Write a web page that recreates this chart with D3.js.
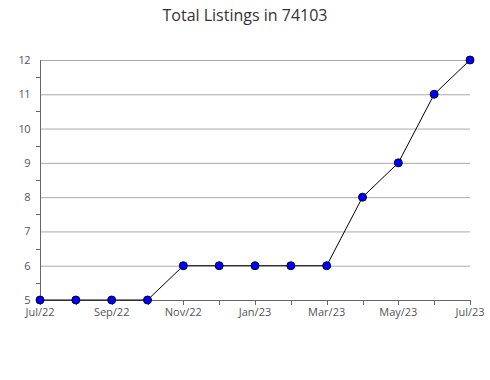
<!DOCTYPE html>
<html><head><meta charset="utf-8">
<script src="https://cdn.jsdelivr.net/npm/d3@7"></script>
<style>body{margin:0;background:#fff}svg{display:block;font-family:"Open Sans",sans-serif}</style>
</head><body>
<script>
const months = ["Jul/22","Aug/22","Sep/22","Oct/22","Nov/22","Dec/22","Jan/23","Feb/23","Mar/23","Apr/23","May/23","Jun/23","Jul/23"];
const listings = [5,5,5,5,6,6,6,6,6,8,9,11,12];
const yTicks = [5,6,7,8,9,10,11,12];
const title = "Total Listings in 74103";

const W=490,H=380,L=40,R=470,T=60,B=300;
const svg=d3.select("body").append("svg").attr("width",W).attr("height",H);
const x=d3.scalePoint().domain(months).range([L,R]);
const y=d3.scaleLinear().domain([5,12]).range([B,T]);

svg.append("text").attr("x",245).attr("y",21).attr("text-anchor","middle")
  .attr("font-size",16).attr("fill","#333").text(title);

// gridlines
svg.append("g").selectAll("line").data(yTicks.slice(1)).join("line")
  .attr("x1",L).attr("x2",R).attr("y1",d=>y(d)+0.5).attr("y2",d=>y(d)+0.5)
  .attr("stroke","#aaa").attr("stroke-width",1);

// y axis
const minor=d3.range(5.5,12,1);
const ya=svg.append("g");
ya.append("line").attr("x1",L+0.5).attr("x2",L+0.5).attr("y1",T).attr("y2",B).attr("stroke","#666");
ya.selectAll(".mn").data(minor).join("line").attr("class","mn")
  .attr("x1",L-4).attr("x2",L).attr("y1",d=>Math.round(y(d))+0.5).attr("y2",d=>Math.round(y(d))+0.5).attr("stroke","#666");
ya.selectAll("text").data(yTicks).join("text")
  .attr("x",L-10).attr("y",d=>y(d)+4).attr("text-anchor","end")
  .attr("font-size",11).attr("fill","#555").attr("letter-spacing",-0.5).text(d=>d);

// x axis
const xa=svg.append("g");
xa.append("line").attr("x1",L).attr("x2",R+1).attr("y1",B+0.5).attr("y2",B+0.5).attr("stroke","#666");
xa.selectAll(".tk").data(months).join("line").attr("class","tk")
  .attr("x1",d=>Math.round(x(d))+0.5).attr("x2",d=>Math.round(x(d))+0.5).attr("y1",B).attr("y2",B+5).attr("stroke","#666");
xa.selectAll("text").data(months.filter((d,i)=>i%2===0)).join("text")
  .attr("x",d=>x(d)).attr("y",B+16).attr("text-anchor","middle")
  .attr("font-size",11).attr("fill","#555").text(d=>d);

// line
svg.append("path").datum(listings)
  .attr("d",d3.line().x((d,i)=>x(months[i])).y(d=>y(d)))
  .attr("fill","none").attr("stroke","#000").attr("stroke-width",1);

svg.append("g").selectAll("circle").data(listings).join("circle")
  .attr("cx",(d,i)=>x(months[i])).attr("cy",d=>y(d)).attr("r",4)
  .attr("fill","#0000ff").attr("stroke","#000033").attr("stroke-width",1);
</script>
</body></html>
